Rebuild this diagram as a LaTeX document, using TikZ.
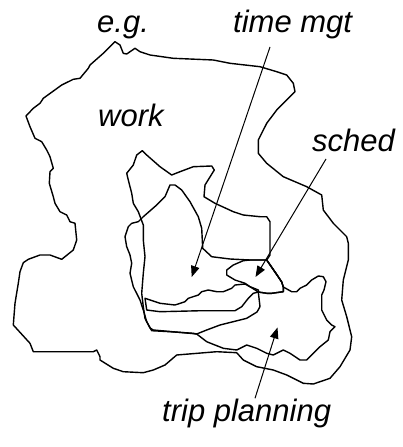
\documentclass[tikz,border=0pt]{standalone}
\usepackage{fontspec}
\setmainfont{Liberation Sans}
\usetikzlibrary{arrows.meta}
\tikzset{
  outline/.style={draw=black, line width=1.4pt, line join=round},
  pointer/.style={draw=black, line width=1pt, -{Triangle[length=11pt,width=8.5pt]}},
  lbl/.style={anchor=base west, inner sep=0pt, font=\fontsize{31}{37}\selectfont\itshape}
}
\begin{document}
\begin{tikzpicture}[x=1pt,y=-1pt]
\useasboundingbox (0,0) rectangle (403,447);
% work
\draw[outline] (115,41.7) -- (120,45) -- (123.3,53.3) -- (126.7,54) -- (135,48.3) -- (140,51.7) -- (150,55) -- (173.3,58.3) -- (213.3,60) -- (230,63.3) -- (260,66.7) -- (276.7,71.7) -- (286.7,75) -- (293.3,83.3) -- (295,91.7) -- (290,96.7) -- (276.7,110) -- (266.7,123.3) -- (258.3,140) -- (258.3,153.3) -- (266.7,163.3) -- (283.3,176.7) -- (306.7,186.7) -- (321.7,195) -- (323.3,210) -- (333.3,223.3) -- (346.7,236.7) -- (348.3,243.3) -- (348.3,260) -- (343.3,280) -- (341.7,300) -- (346.7,316.7) -- (351.7,336.7) -- (350,350) -- (340,366.7) -- (330,378.3) -- (313.3,384) -- (303.3,383.3) -- (286.7,375) -- (273.3,370) -- (256.7,366.7) -- (243.3,360) -- (236.7,352.7) -- (216.7,351.7) -- (176.7,355) -- (165,365) -- (153.3,370) -- (143.3,372.7) -- (123.3,371.7) -- (113.3,368.3) -- (100,360) -- (100,356.7) -- (96.7,350) -- (93.3,351.7) -- (33.3,351.7) -- (30,343.3) -- (13.3,325) -- (15,303.3) -- (18.3,283.3) -- (20,271.7) -- (23.3,262.7) -- (28.3,259.3) -- (40,255) -- (50,255) -- (61.7,259.3) -- (73.3,250) -- (76.7,240) -- (75,223.3) -- (70,221.7) -- (66.7,215) -- (60,211.7) -- (55,203.3) -- (53.3,196.7) -- (49.3,183.3) -- (50,171.7) -- (53.3,168.3) -- (50,156.7) -- (46.7,150) -- (41.7,141.7) -- (35,138.3) -- (30,126.7) -- (26,116) -- (33.3,108.3) -- (40,103.3) -- (43.3,98.3) -- (61.7,85) -- (73.3,79.3) -- (80,78.3) -- (88.3,68.3) -- (90,65) -- (103.3,53.3) -- cycle;
% jagged region with box, running round the trip planning region
\draw[outline] (150,328) -- (145,318.3) -- (143.3,306.7) -- (141.7,293.3) -- (143.3,273.3) -- (145,256.7) -- (143.3,240) -- (143.3,225) -- (138.3,211.7) -- (133.3,203.3) -- (131.7,193.3) -- (128.3,180) -- (126.7,173.3) -- (133.3,165) -- (136.7,155) -- (142.3,150.7) -- (146.7,155) -- (160,166.7) -- (171.7,175) -- (180,171.7) -- (193.3,166.7) -- (211.7,166) -- (214.3,170) -- (205,185) -- (204,196.7) -- (215,203.3) -- (233.3,211.7) -- (243.3,215) -- (260,216.7) -- (266.7,216.7) -- (270,221.7) -- (270,255) -- (266.7,260) -- (275,272) -- (281.7,282) -- (283.3,287) -- (291.7,291.7) -- (296.7,291.7) -- (300,288.3) -- (306.7,285) -- (311.7,280) -- (318.3,276) -- (323.3,276.7) -- (326,281.7) -- (324,290) -- (321.7,295) -- (321.7,310) -- (326.7,320) -- (331.7,325) -- (335,326.7) -- (330,331.7) -- (328.3,340) -- (320,346.7) -- (313.3,353.3) -- (306.7,360) -- (300,360) -- (290,353.3) -- (283.3,350) -- (273.3,355) -- (266.7,353.3) -- (256.7,348.3) -- (246.7,345) -- (236.7,350) -- (223.3,348.3) -- (206.7,341.7) -- (196.7,334) -- (190,333.3) -- (153.3,330) -- cycle;
% time mgt region
\draw[outline] (170,185) -- (175,185) -- (181.7,190) -- (190,201.7) -- (198.3,216.7) -- (201.7,228.3) -- (202.7,248.3) -- (211.7,256.7) -- (230,259) -- (250,260) -- (266.7,260) -- (275,272) -- (281.7,282) -- (283.3,287) -- (283.3,291.7) -- (271.7,293.3) -- (266.7,293.3) -- (258.3,292) -- (260,306.7) -- (257,312) -- (246.7,318.3) -- (233.3,321.7) -- (220,325) -- (206.7,330) -- (196.7,334) -- (193.3,333.3) -- (170,331.7) -- (151.7,330.7) -- (146.7,321.7) -- (143.3,310) -- (140,300) -- (133.3,286.7) -- (130,273.3) -- (131.7,263.3) -- (130,255) -- (126.7,246.7) -- (125,236.7) -- (128.3,226.7) -- (131.7,223.3) -- (138.3,221.7) -- (143.3,216.7) -- (156.7,205) -- (165,196.7) -- cycle;
% sched region
\draw[outline] (226.7,270) -- (233.3,265) -- (243.3,260.7) -- (250,260) -- (266.7,260) -- (275,272) -- (281.7,282) -- (283.3,287) -- (283.3,291.7) -- (271.7,293.3) -- (266.7,293.3) -- (258.3,292) -- (250,286.7) -- (245,283.3) -- (235,280) -- (226.7,275) -- cycle;
% sliver
\draw[outline] (145,298.3) -- (160,303.3) -- (175,305) -- (185,301.7) -- (188.3,298.3) -- (198.3,295) -- (201.7,291.7) -- (208.3,290) -- (216.7,291.7) -- (223.3,291.7) -- (231.7,288.3) -- (235,285) -- (245,284) -- (250,286.7) -- (258.3,290) -- (258.3,292) -- (253.3,293.3) -- (248.3,298.3) -- (241.7,306.7) -- (235,310.7) -- (201.7,310.7) -- (160,311.7) -- (146.7,310) -- cycle;
% labels
\node[lbl] (eg) at (97,32) {e.g.};
\node[lbl] (time) at (233,32) {time mgt};
\node[lbl] (work) at (98,126.7) {work};
\node[lbl] (sched) at (312,151.7) {sched};
\node[lbl] (trip) at (162,421) {trip planning};
% arrows
\coordinate (timeS) at (270,47);
\coordinate (timeT) at (191.7,277);
\coordinate (schedS) at (326,159);
\coordinate (schedT) at (255.5,277);
\coordinate (tripS) at (255,398.3);
\coordinate (tripT) at (277.5,327.5);
\draw[pointer] (timeS) -- (timeT);
\draw[pointer] (schedS) -- (schedT);
\draw[pointer] (tripS) -- (tripT);
\end{tikzpicture}
\end{document}
